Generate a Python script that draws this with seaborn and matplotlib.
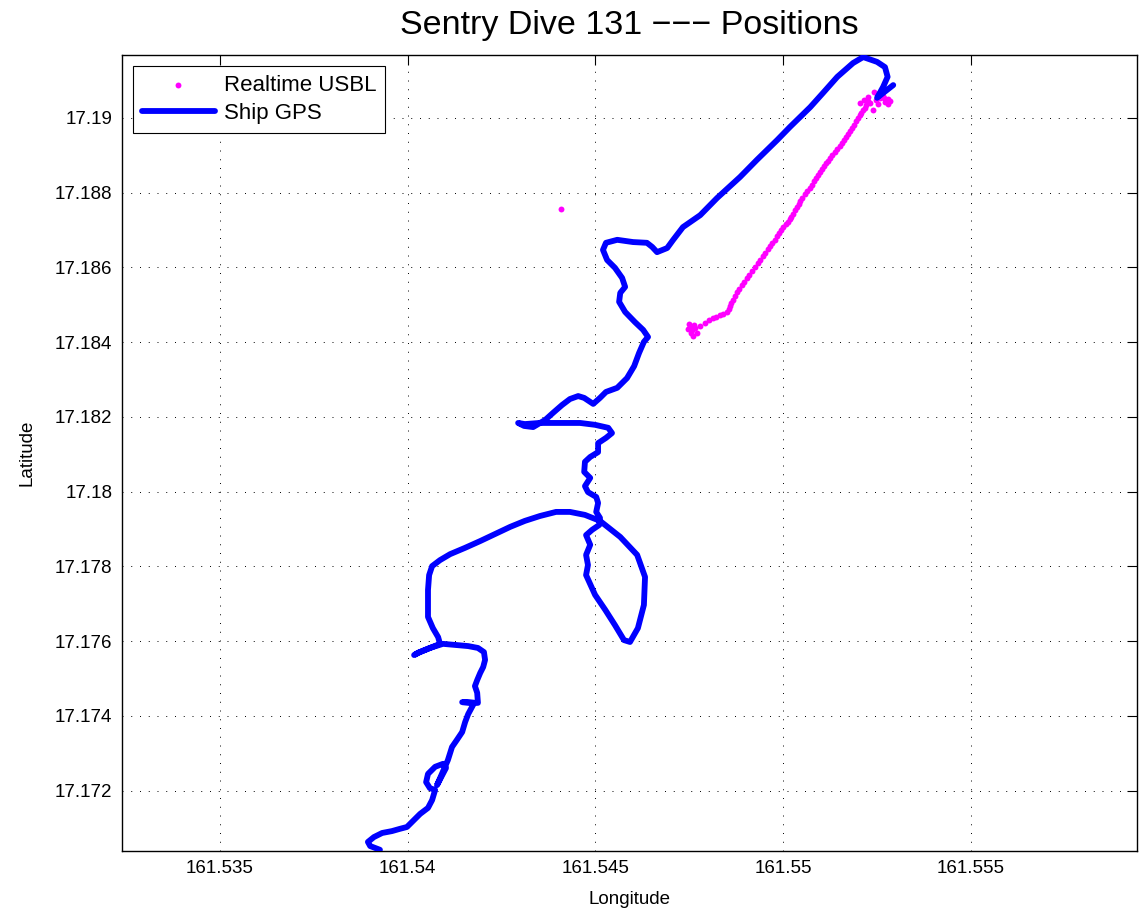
import pandas as pd
import matplotlib.pyplot as plt
import seaborn as sns

sns.set_style('white')
plt.rcParams['font.family'] = ['Liberation Sans', 'DejaVu Sans']
plt.rcParams['text.color'] = 'black'
plt.rcParams['axes.labelcolor'] = 'black'

# ship GPS track (lon, lat), south end first
ship_gps = [
    (161.53926, 17.17042), (161.53900, 17.17052), (161.53894, 17.17063), (161.53910, 17.17076),
    (161.53932, 17.17087), (161.53958, 17.17092), (161.53979, 17.17098), (161.53998, 17.17103),
    (161.54017, 17.17122), (161.54033, 17.17138), (161.54054, 17.17154), (161.54065, 17.17175),
    (161.54073, 17.17202), (161.54059, 17.17207), (161.54049, 17.17223), (161.54054, 17.17245),
    (161.54073, 17.17264), (161.54094, 17.17272), (161.54102, 17.17261), (161.54091, 17.17240),
    (161.54078, 17.17215), (161.54107, 17.17282), (161.54118, 17.17317), (161.54131, 17.17336),
    (161.54145, 17.17357), (161.54153, 17.17384), (161.54161, 17.17405), (161.54171, 17.17424),
    (161.54177, 17.17435), (161.54145, 17.17437), (161.54187, 17.17435), (161.54185, 17.17462),
    (161.54179, 17.17480), (161.54185, 17.17496), (161.54193, 17.17515), (161.54201, 17.17531),
    (161.54206, 17.17550), (161.54203, 17.17571), (161.54187, 17.17582), (161.54161, 17.17587),
    (161.54126, 17.17590), (161.54094, 17.17593), (161.54059, 17.17582), (161.54027, 17.17569),
    (161.54017, 17.17563), (161.54033, 17.17571), (161.54086, 17.17593), (161.54081, 17.17611),
    (161.54067, 17.17635), (161.54054, 17.17665), (161.54054, 17.17697), (161.54054, 17.17737),
    (161.54057, 17.17777), (161.54065, 17.17801), (161.54086, 17.17817), (161.54113, 17.17833),
    (161.54153, 17.17850), (161.54193, 17.17868), (161.54233, 17.17887), (161.54273, 17.17906),
    (161.54312, 17.17922), (161.54352, 17.17935), (161.54395, 17.17946), (161.54432, 17.17946),
    (161.54472, 17.17938), (161.54512, 17.17922), (161.54566, 17.17879), (161.54611, 17.17831),
    (161.54632, 17.17772), (161.54629, 17.17697), (161.54613, 17.17635), (161.54592, 17.17598),
    (161.54576, 17.17603), (161.54552, 17.17643), (161.54526, 17.17684), (161.54499, 17.17724),
    (161.54475, 17.17777), (161.54480, 17.17804), (161.54475, 17.17831), (161.54486, 17.17858),
    (161.54475, 17.17884), (161.54491, 17.17898), (161.54510, 17.17911), (161.54512, 17.17930),
    (161.54502, 17.17946), (161.54507, 17.17970), (161.54502, 17.17986), (161.54480, 17.17999),
    (161.54472, 17.18015), (161.54486, 17.18037), (161.54470, 17.18053), (161.54472, 17.18080),
    (161.54486, 17.18093), (161.54507, 17.18106), (161.54507, 17.18130), (161.54528, 17.18144),
    (161.54544, 17.18157), (161.54534, 17.18171), (161.54499, 17.18179), (161.54459, 17.18184),
    (161.54406, 17.18184), (161.54352, 17.18184), (161.54312, 17.18181), (161.54294, 17.18184),
    (161.54310, 17.18176), (161.54334, 17.18173), (161.54366, 17.18192), (161.54387, 17.18211),
    (161.54411, 17.18232), (161.54432, 17.18248), (161.54454, 17.18256), (161.54470, 17.18251),
    (161.54494, 17.18235), (161.54512, 17.18251), (161.54528, 17.18267), (161.54558, 17.18278),
    (161.54584, 17.18304), (161.54603, 17.18336), (161.54616, 17.18371), (161.54629, 17.18401),
    (161.54640, 17.18414), (161.54627, 17.18433), (161.54605, 17.18454), (161.54579, 17.18481),
    (161.54563, 17.18508), (161.54566, 17.18532), (161.54579, 17.18548), (161.54571, 17.18572),
    (161.54552, 17.18599), (161.54531, 17.18620), (161.54520, 17.18647), (161.54528, 17.18666),
    (161.54558, 17.18674), (161.54600, 17.18668), (161.54637, 17.18666), (161.54651, 17.18655),
    (161.54664, 17.18641), (161.54691, 17.18652), (161.54707, 17.18674), (161.54733, 17.18708),
    (161.54779, 17.18740), (161.54824, 17.18786), (161.54885, 17.18842), (161.54930, 17.18888),
    (161.54984, 17.18941), (161.55018, 17.18976), (161.55072, 17.19029), (161.55106, 17.19067),
    (161.55144, 17.19110), (161.55186, 17.19147), (161.55213, 17.19163), (161.55250, 17.19150),
    (161.55271, 17.19136), (161.55278, 17.19110), (161.55266, 17.19083), (161.55250, 17.19054),
    (161.55293, 17.19088),
]

# realtime USBL fixes of the vehicle
usbl_fixes = [
    (161.54752, 17.18441), (161.54757, 17.18433), (161.54763, 17.18446), (161.54771, 17.18425),
    (161.54755, 17.18425), (161.54765, 17.18438), (161.54779, 17.18444), (161.54792, 17.18452),
    (161.54747, 17.18435), (161.54760, 17.18417), (161.54749, 17.18449),
    (161.54803, 17.18460), (161.54813, 17.18465), (161.54821, 17.18468), (161.54832, 17.18473),
    (161.54840, 17.18476), (161.54851, 17.18481), (161.54856, 17.18489), (161.54859, 17.18497),
    (161.54861, 17.18505), (161.54867, 17.18513), (161.54872, 17.18524), (161.54877, 17.18534),
    (161.54883, 17.18543), (161.54891, 17.18553), (161.54896, 17.18561), (161.54904, 17.18572),
    (161.54909, 17.18580), (161.54917, 17.18591), (161.54925, 17.18601), (161.54933, 17.18612),
    (161.54938, 17.18620), (161.54946, 17.18631), (161.54952, 17.18639), (161.54960, 17.18650),
    (161.54965, 17.18658), (161.54970, 17.18666), (161.54978, 17.18674), (161.54984, 17.18684),
    (161.54989, 17.18692), (161.54994, 17.18700), (161.55000, 17.18708), (161.55008, 17.18716),
    (161.55013, 17.18722), (161.55018, 17.18730), (161.55021, 17.18735), (161.55026, 17.18743),
    (161.55032, 17.18754), (161.55037, 17.18762), (161.55042, 17.18770), (161.55045, 17.18778),
    (161.55050, 17.18786), (161.55058, 17.18797), (161.55064, 17.18805), (161.55072, 17.18813),
    (161.55077, 17.18821), (161.55082, 17.18831), (161.55088, 17.18840), (161.55093, 17.18848),
    (161.55098, 17.18856), (161.55104, 17.18864), (161.55109, 17.18872), (161.55114, 17.18880),
    (161.55120, 17.18885), (161.55125, 17.18893), (161.55130, 17.18901), (161.55138, 17.18909),
    (161.55144, 17.18917), (161.55152, 17.18925), (161.55157, 17.18933), (161.55162, 17.18941),
    (161.55168, 17.18949), (161.55173, 17.18957), (161.55178, 17.18965), (161.55184, 17.18973),
    (161.55189, 17.18981), (161.55194, 17.18992), (161.55200, 17.19000), (161.55205, 17.19008),
    (161.55208, 17.19013), (161.55213, 17.19021), (161.55218, 17.19027), (161.55221, 17.19035),
    (161.55226, 17.19045), (161.55205, 17.19040), (161.55215, 17.19048), (161.55231, 17.19040),
    (161.55239, 17.19021), (161.55242, 17.19070), (161.55250, 17.19064), (161.55258, 17.19054),
    (161.55269, 17.19054), (161.55278, 17.19038), (161.55279, 17.19051), (161.55266, 17.19059),
    (161.55253, 17.19038), (161.55271, 17.19043), (161.55285, 17.19045), (161.55247, 17.19048),
    (161.55226, 17.19056),
    (161.54408, 17.18757),
]

title = 'Sentry Dive 131 \u2212\u2212\u2212 Positions'
x_ticks = [161.535, 161.54, 161.545, 161.55, 161.555]
x_tick_labels = ['161.535', '161.54', '161.545', '161.55', '161.555']
y_ticks = [17.172, 17.174, 17.176, 17.178, 17.18, 17.182, 17.184, 17.186, 17.188, 17.19]
y_tick_labels = ['17.172', '17.174', '17.176', '17.178', '17.18',
                 '17.182', '17.184', '17.186', '17.188', '17.19']

gps = pd.DataFrame(ship_gps, columns=['lon', 'lat'])
fixes = pd.DataFrame(usbl_fixes, columns=['lon', 'lat'])

fig = plt.figure(figsize=(11.43, 9.19), dpi=100)
ax = fig.add_axes([0.1067, 0.0743, 0.888, 0.8659])

sns.scatterplot(data=fixes, x='lon', y='lat', ax=ax, color='#ff00ff', s=18,
                linewidth=0, label='Realtime USBL', zorder=2)
sns.lineplot(data=gps, x='lon', y='lat', ax=ax, sort=False, estimator=None,
             color='#0000ff', linewidth=4.2, label='Ship GPS', zorder=3,
             solid_joinstyle='round', solid_capstyle='round')

ax.set_xlim(161.53239, 161.55942)
ax.set_ylim(17.170395, 17.191686)
ax.set_xticks(x_ticks)
ax.set_xticklabels(x_tick_labels)
ax.set_yticks(y_ticks)
ax.set_yticklabels(y_tick_labels)

ax.grid(True, color='black', linestyle=(0, (1, 8)), linewidth=0.7)
ax.tick_params(direction='in', length=7, width=0.8, top=True, right=True,
               labelsize=13.5, pad=7, colors='black')
for sp in ax.spines.values():
    sp.set_color('black')
    sp.set_linewidth(1.0)

ax.set_xlabel('Longitude', fontsize=13.5, labelpad=10)
ax.set_ylabel('Latitude', fontsize=13.5, labelpad=14)
ax.set_title(title, fontsize=24.5, pad=15)

ax.legend(loc='upper left', bbox_to_anchor=(0.0108, 0.986), borderaxespad=0,
          fontsize=16, frameon=True, fancybox=False, edgecolor='black',
          framealpha=1, handlelength=3.3, handletextpad=0.4, borderpad=0.4,
          labelspacing=0.3)
ax.get_legend().get_frame().set_linewidth(0.8)

fig.savefig('out.png', dpi=100)
